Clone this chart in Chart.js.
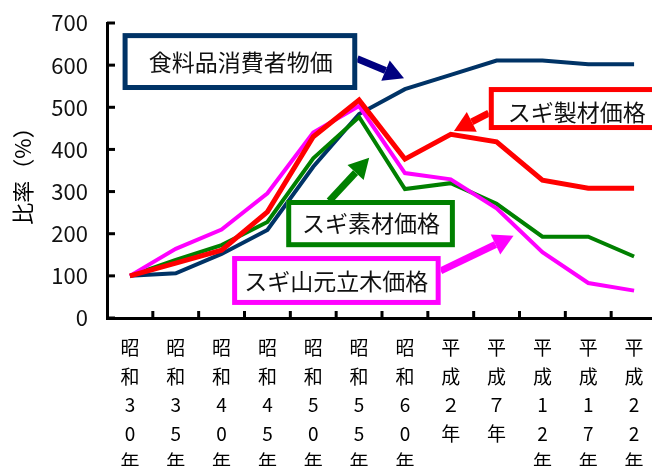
<!DOCTYPE html>
<html>
<head>
<meta charset="utf-8">
<script src="https://cdn.jsdelivr.net/npm/chart.js@4/dist/chart.umd.min.js"></script>
<style>
  html, body { margin: 0; padding: 0; background: #fff; overflow: hidden; }
  #wrap { width: 652px; height: 466px; overflow: hidden; position: relative; }
  canvas { position: absolute; left: 0; top: 0; }
</style>
</head>
<body>
<div id="wrap"><canvas id="myChart" width="660" height="480"></canvas></div>
<script>
// categories (vertical labels, one character per line)
const years = [
    ['昭', '和', '3', '0', '年'],
    ['昭', '和', '3', '5', '年'],
    ['昭', '和', '4', '0', '年'],
    ['昭', '和', '4', '5', '年'],
    ['昭', '和', '5', '0', '年'],
    ['昭', '和', '5', '5', '年'],
    ['昭', '和', '6', '0', '年'],
    ['平', '成', '２', '年'],
    ['平', '成', '７', '年'],
    ['平', '成', '1', '2', '年'],
    ['平', '成', '1', '7', '年'],
    ['平', '成', '2', '2', '年']
];

// index values (昭和30年 = 100)
const foodPrice = [100, 106, 152, 209, 359, 484, 543, 577, 611, 611, 602, 602];
const sugiLumber = [100, 130, 161, 252, 430, 517, 377, 436, 418, 327, 308, 308];
const sugiLog = [100, 138, 173, 228, 379, 477, 306, 320, 271, 193, 193, 146];
const sugiStumpage = [100, 164, 210, 296, 440, 503, 344, 329, 260, 156, 83, 65];

const yTicks = [0, 100, 200, 300, 400, 500, 600, 700];

const FONT = "'Noto Sans CJK JP', 'Noto Sans', sans-serif";

// labels with arrows, placed in category index / value units
const callouts = [
    { text: '食料品消費者物価', color: '#003366', arrowColor: '#000080',
      box: [-0.16, 676, 4.96, 541], at: [2.42, 607], from: [4.96, 615], to: [5.98, 569] },
    { text: 'スギ製材価格', color: '#ff0000', arrowColor: '#ff0000',
      box: [7.83, 548, 11.7, 446], at: [9.75, 489], from: [7.83, 486], to: [7.07, 444] },
    { text: 'スギ素材価格', color: '#008000', arrowColor: '#008000',
      box: [3.41, 280, 7.09, 168], at: [5.26, 225], from: [4.35, 278], to: [5.22, 380] },
    { text: 'スギ山元立木価格', color: '#ff00ff', arrowColor: '#ff00ff',
      box: [2.23, 147, 6.78, 31], at: [4.5, 88], from: [6.78, 112], to: [8.37, 195] }
];

function drawArrow(ctx, x1, y1, x2, y2, color) {
    const ang = Math.atan2(y2 - y1, x2 - x1);
    const headLen = 20, headHalf = 11;
    const bx = x2 - headLen * Math.cos(ang), by = y2 - headLen * Math.sin(ang);
    ctx.strokeStyle = color;
    ctx.fillStyle = color;
    ctx.lineWidth = 7;
    ctx.lineCap = 'butt';
    ctx.beginPath();
    ctx.moveTo(x1, y1);
    ctx.lineTo(bx, by);
    ctx.stroke();
    ctx.beginPath();
    ctx.moveTo(x2, y2);
    ctx.lineTo(bx + headHalf * Math.sin(ang), by - headHalf * Math.cos(ang));
    ctx.lineTo(bx - headHalf * Math.sin(ang), by + headHalf * Math.cos(ang));
    ctx.closePath();
    ctx.fill();
}

const extras = {
    id: 'extras',
    afterDraw(chart) {
        const ctx = chart.ctx;
        const xs = chart.scales.x, ys = chart.scales.y;
        const area = chart.chartArea;
        ctx.save();

        // inward tick marks
        ctx.strokeStyle = '#000';
        ctx.lineWidth = 3;
        ys.ticks.forEach((t, i) => {
            const y = ys.getPixelForTick(i);
            ctx.beginPath();
            ctx.moveTo(area.left, y);
            ctx.lineTo(area.left + 8, y);
            ctx.stroke();
        });
        for (let i = 1; i < years.length; i++) {
            const x = (xs.getPixelForValue(i - 1) + xs.getPixelForValue(i)) / 2;
            ctx.beginPath();
            ctx.moveTo(x, area.bottom);
            ctx.lineTo(x, area.bottom - 7);
            ctx.stroke();
        }

        // callouts
        callouts.forEach(c => {
            const fx = xs.getPixelForValue(c.from[0]), fy = ys.getPixelForValue(c.from[1]);
            const tx = xs.getPixelForValue(c.to[0]), ty = ys.getPixelForValue(c.to[1]);
            drawArrow(ctx, fx, fy, tx, ty, c.arrowColor);

            const x1 = xs.getPixelForValue(c.box[0]), y1 = ys.getPixelForValue(c.box[1]);
            const x2 = xs.getPixelForValue(c.box[2]), y2 = ys.getPixelForValue(c.box[3]);
            ctx.fillStyle = '#fff';
            ctx.fillRect(x1, y1, x2 - x1, y2 - y1);
            ctx.strokeStyle = c.color;
            ctx.lineWidth = 5;
            ctx.strokeRect(x1 + 2.5, y1 + 2.5, x2 - x1 - 5, y2 - y1 - 5);

            ctx.fillStyle = '#111';
            ctx.font = '23px ' + FONT;
            ctx.textAlign = 'center';
            ctx.textBaseline = 'middle';
            ctx.fillText(c.text, xs.getPixelForValue(c.at[0]), ys.getPixelForValue(c.at[1]));
        });
        ctx.restore();
    }
};

const ctx = document.getElementById('myChart').getContext('2d');

const chart = new Chart(ctx, {
    type: 'line',
    data: {
        labels: years,
        datasets: [
            { label: '食料品消費者物価', data: foodPrice, borderColor: '#003366', order: 3 },
            { label: 'スギ素材価格', data: sugiLog, borderColor: '#008000', order: 2 },
            { label: 'スギ山元立木価格', data: sugiStumpage, borderColor: '#ff00ff', order: 1 },
            { label: 'スギ製材価格', data: sugiLumber, borderColor: '#ff0000', borderWidth: 5, order: 0 }
        ]
    },
    options: {
        responsive: false,
        animation: false,
        events: [],
        layout: { padding: { top: 23, right: 3, left: 0, bottom: 0 } },
        elements: {
            line: { borderWidth: 4, tension: 0, fill: false, borderJoinStyle: 'miter' },
            point: { radius: 0 }
        },
        plugins: {
            legend: { display: false },
            tooltip: { enabled: false }
        },
        scales: {
            x: {
                offset: true,
                grid: { display: false, drawTicks: false },
                border: { color: '#000', width: 3 },
                ticks: {
                    autoSkip: false,
                    maxRotation: 0,
                    minRotation: 0,
                    padding: 16,
                    color: '#000',
                    font: { family: FONT, size: 19, lineHeight: 1.5 }
                },
                afterFit(scale) {
                    scale.height = 162;
                    scale.paddingLeft = 0;
                    scale.paddingRight = 0;
                }
            },
            y: {
                min: 0,
                max: 700,
                afterBuildTicks(scale) { scale.ticks = yTicks.map(v => ({ value: v })); },
                grid: { display: false, drawTicks: false },
                border: { color: '#000', width: 3 },
                ticks: {
                    padding: 19,
                    color: '#111',
                    font: { family: FONT, size: 22 }
                },
                title: {
                    display: true,
                    text: '比率（%）',
                    color: '#000',
                    font: { family: FONT, size: 22 },
                    padding: { top: 9, bottom: 0 }
                },
                afterFit(scale) {
                    scale.width = 107;
                    scale.paddingTop = 0;
                    scale.paddingBottom = 0;
                }
            }
        }
    },
    plugins: [extras]
});
</script>
</body>
</html>
